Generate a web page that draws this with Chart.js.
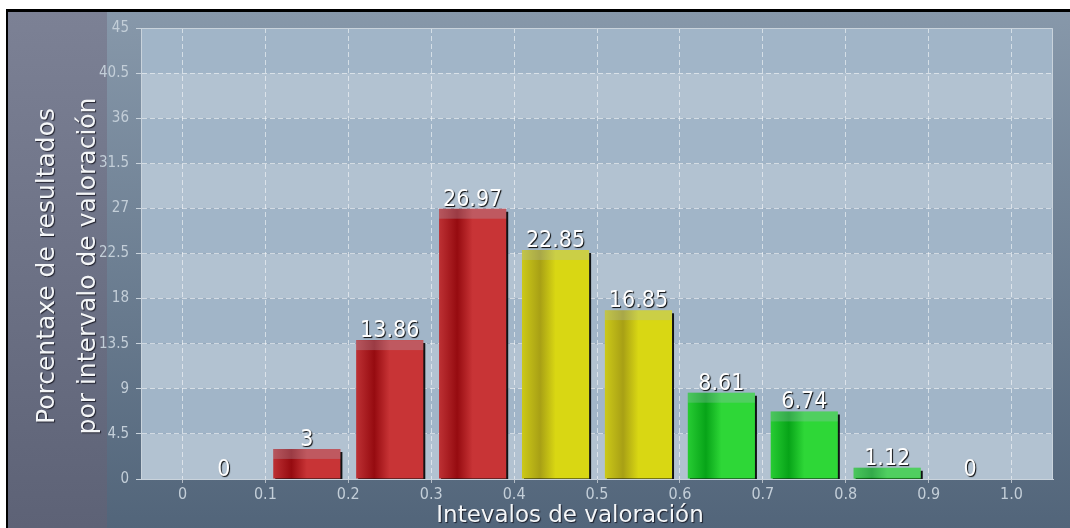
<!DOCTYPE html>
<html lang="gl">
<head>
  <meta charset="UTF-8" />
  <title>Porcentaxe de resultados por intervalo de valoración</title>
  <script src="https://cdn.jsdelivr.net/npm/chart.js"></script>
  <style>
    body {
      margin: 0;
      background: #fff;
      width: 1070px;
      height: 528px;
      overflow: hidden;
    }
    .frame {
      position: absolute;
      left: 6px;
      top: 9px;
      width: 1062px;
      height: 516px;
      border-top: 3px solid #000;
      border-left: 2px solid #000;
    }
  </style>
</head>
<body>
  <div class="frame"><canvas id="chart"></canvas></div>

  <script>
    // data
    const intervals = ['0-0.1', '0.1-0.2', '0.2-0.3', '0.3-0.4', '0.4-0.5', '0.5-0.6', '0.6-0.7', '0.7-0.8', '0.8-0.9', '0.9-1.0'];
    const intervalMid = [0.05, 0.15, 0.25, 0.35, 0.45, 0.55, 0.65, 0.75, 0.85, 0.95];
    const percentages = [0, 3, 13.86, 26.97, 22.85, 16.85, 8.61, 6.74, 1.12, 0];
    const xTicks = [0, 0.1, 0.2, 0.3, 0.4, 0.5, 0.6, 0.7, 0.8, 0.9, 1.0];
    const xTickLabels = ['0', '0.1', '0.2', '0.3', '0.4', '0.5', '0.6', '0.7', '0.8', '0.9', '1.0'];
    const yTicks = [0, 4.5, 9, 13.5, 18, 22.5, 27, 31.5, 36, 40.5, 45];
    const yTickLabels = ['0', '4.5', '9', '13.5', '18', '22.5', '27', '31.5', '36', '40.5', '45'];
    const yTitle = ['Porcentaxe de resultados', 'por intervalo de valoración'];
    const xTitle = 'Intevalos de valoración';

    // look
    const BAR_PCT = 0.81;
    const barTone = ['red', 'red', 'red', 'red', 'yellow', 'yellow', 'green', 'green', 'green', 'green'];
    const palette = {
      red:    ['#bd3134', '#960b10', '#c83436'],
      yellow: ['#ccc918', '#a8a015', '#d9d713'],
      green:  ['#27cc33', '#07a418', '#2ed737']
    };
    const tickColor = '#c3ced8';
    const lineColor = '#c9d3dc';
    const condensed = "'DejaVu Sans Condensed', 'DejaVu Sans', sans-serif";
    const sans = "'DejaVu Sans', Verdana, sans-serif";

    function barFill(c) {
      const col = palette[barTone[c.dataIndex]];
      const x = c.chart.scales.x;
      if (!x || !c.chart.chartArea || !c.parsed) return col[2];
      const mid = x.getPixelForValue(c.parsed.x);
      const half = (x.getPixelForValue(0.1) - x.getPixelForValue(0)) * BAR_PCT / 2;
      const g = c.chart.ctx.createLinearGradient(mid - half, 0, mid + half, 0);
      g.addColorStop(0, col[0]);
      g.addColorStop(0.27, col[1]);
      g.addColorStop(0.5, col[2]);
      g.addColorStop(1, col[2]);
      return g;
    }

    const backdrop = {
      id: 'backdrop',
      beforeDraw(chart) {
        const { ctx, width, height, chartArea: a } = chart;
        const y = chart.scales.y;
        ctx.save();
        let g = ctx.createLinearGradient(0, 0, 0, height);
        g.addColorStop(0, '#8798aa');
        g.addColorStop(1, '#52657a');
        ctx.fillStyle = g;
        ctx.fillRect(0, 0, width, height);

        g = ctx.createLinearGradient(0, 0, 0, height);
        g.addColorStop(0, '#7c8195');
        g.addColorStop(1, '#5d6276');
        ctx.fillStyle = g;
        ctx.fillRect(0, 0, 99, height);

        // alternating bands between y ticks
        for (let i = 0; i < yTicks.length - 1; i++) {
          const top = y.getPixelForValue(yTicks[i + 1]);
          const bot = y.getPixelForValue(yTicks[i]);
          ctx.fillStyle = i % 2 ? '#a1b5c8' : '#b2c2d1';
          ctx.fillRect(a.left, top, a.right - a.left, bot - top);
        }
        ctx.restore();
      },
      beforeDatasetsDraw(chart) {
        const { ctx, chartArea: a } = chart;
        ctx.save();
        ctx.strokeStyle = lineColor;
        ctx.lineWidth = 1;
        ctx.beginPath();
        ctx.moveTo(a.left, a.top + 0.5);
        ctx.lineTo(a.right - 0.5, a.top + 0.5);
        ctx.lineTo(a.right - 0.5, a.bottom);
        ctx.stroke();
        // bar drop shadow
        ctx.shadowColor = 'rgba(0,0,0,0.9)';
        ctx.shadowOffsetX = 2;
        ctx.shadowOffsetY = 3;
        ctx.shadowBlur = 0;
      },
      afterDatasetsDraw(chart) {
        const { ctx } = chart;
        ctx.restore();
        const meta = chart.getDatasetMeta(0);
        ctx.save();
        // pale cap on top of each bar
        meta.data.forEach(el => {
          const h = Math.min(10, el.base - el.y);
          if (h <= 0) return;
          ctx.fillStyle = 'rgba(170,188,206,0.28)';
          ctx.fillRect(el.x - el.width / 2, el.y, el.width, h);
        });
        // value labels
        ctx.font = '23px ' + condensed;
        ctx.textAlign = 'center';
        ctx.textBaseline = 'alphabetic';
        ctx.fillStyle = '#ffffff';
        ctx.shadowColor = 'rgba(0,0,0,0.95)';
        ctx.shadowOffsetX = 1;
        ctx.shadowOffsetY = 1;
        ctx.shadowBlur = 1;
        meta.data.forEach((el, i) => {
          ctx.fillText(String(percentages[i]), el.x, el.y - 3);
        });
        ctx.restore();
      },
      afterDraw(chart) {
        const { ctx } = chart;
        ctx.save();
        ctx.fillStyle = '#f4f6f8';
        ctx.shadowColor = 'rgba(20,20,30,0.85)';
        ctx.shadowOffsetX = 1;
        ctx.shadowOffsetY = 1;
        ctx.shadowBlur = 1;
        ctx.textAlign = 'center';
        ctx.textBaseline = 'middle';
        ctx.font = '23px ' + sans;
        ctx.fillText(xTitle, 562, 504);
        ctx.translate(0, 254);
        ctx.rotate(-Math.PI / 2);
        ctx.font = '25px ' + sans;
        ctx.fillText(yTitle[0], 0, 39);
        ctx.fillText(yTitle[1], 0, 80);
        ctx.restore();
      }
    };

    new Chart(document.getElementById('chart'), {
      type: 'bar',
      data: {
        labels: intervals,
        datasets: [{
          data: intervalMid.map((x, i) => ({ x: x, y: percentages[i] })),
          backgroundColor: barFill,
          borderWidth: 0,
          barPercentage: BAR_PCT,
          categoryPercentage: 1,
          clip: 0
        }]
      },
      options: {
        responsive: true,
        maintainAspectRatio: false,
        animation: false,
        layout: { padding: { top: 15, right: 17, left: 0, bottom: 0 } },
        plugins: {
          legend: { display: false },
          tooltip: { enabled: false }
        },
        scales: {
          x: {
            type: 'linear',
            min: -0.05,
            max: 1.05,
            offset: false,
            afterBuildTicks: s => { s.ticks = xTicks.map(v => ({ value: v })); },
            afterFit: s => { s.height = 49; },
            ticks: {
              callback: (v, i) => xTickLabels[i],
              color: tickColor,
              font: { family: condensed, size: 16 },
              padding: 2,
              maxRotation: 0,
              autoSkip: false
            },
            grid: { offset: false, color: 'rgba(255,255,255,0.55)', tickColor: 'rgba(255,255,255,0.55)', tickLength: 4 },
            border: { color: lineColor, dash: [5, 3] }
          },
          y: {
            min: 0,
            max: 45,
            afterBuildTicks: s => { s.ticks = yTicks.map(v => ({ value: v })); },
            afterFit: s => { s.width = 133; },
            ticks: {
              callback: (v, i) => yTickLabels[i],
              color: tickColor,
              font: { family: condensed, size: 15 },
              padding: 7
            },
            grid: { color: 'rgba(255,255,255,0.55)', tickColor: lineColor, tickLength: 5, tickBorderDash: [] },
            border: { color: lineColor, dash: [5, 3] }
          }
        }
      },
      plugins: [backdrop]
    });
  </script>
</body>
</html>
